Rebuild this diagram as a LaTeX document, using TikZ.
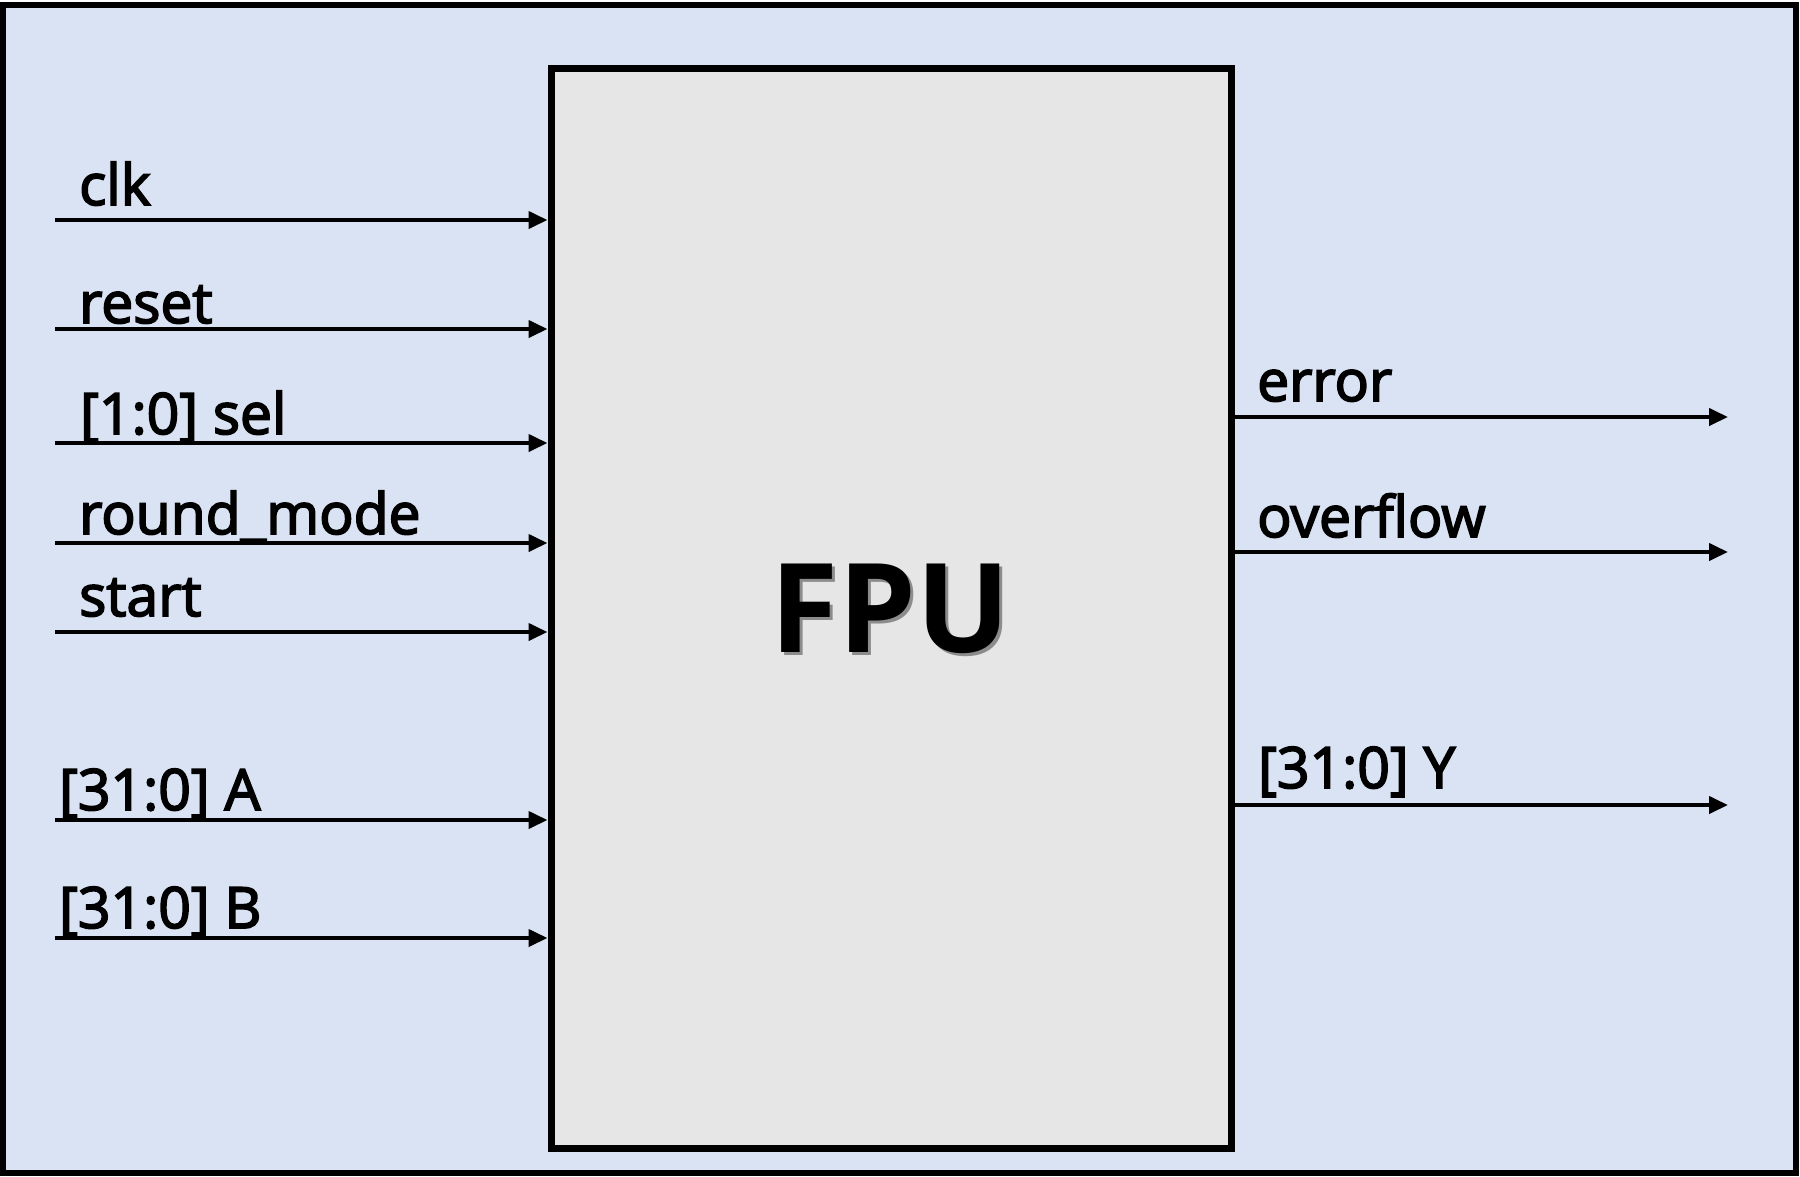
\documentclass[tikz,border=0pt]{standalone}
\usepackage{fontspec}
\setmainfont{Open Sans}
\newfontfamily\labfont{Open Sans}[FakeBold=3]
\usetikzlibrary{arrows.meta}
\definecolor{bgblue}{RGB}{218,227,243}
\definecolor{boxgray}{RGB}{230,230,230}
\definecolor{shadowgray}{RGB}{140,140,140}
\begin{document}
\begin{tikzpicture}[x=1pt,y=-1pt,
  sig/.style={line width=4pt, -{Triangle[length=19pt,width=17pt]}},
  lab/.style={anchor=base west, inner sep=0pt, font=\labfont\fontsize{57}{60}\selectfont},
  ttl/.style={inner sep=0pt, font=\bfseries\fontsize{124}{130}\selectfont}]
\useasboundingbox (0,0) rectangle (1800,1176);
\draw[line width=6pt, fill=bgblue] (3,4.5) rectangle (1796,1173);
\node[draw, line width=7pt, fill=boxgray, minimum width=680pt, minimum height=1079.5pt, inner sep=0pt] (fpu) at (891,608.25) {};
\node[ttl] (fputext) at (890,610.5) {\makebox[0pt][l]{\raisebox{-3.5pt}{\hspace{3.5pt}\textcolor{shadowgray}{FPU}}}FPU};
% inputs
\coordinate (iclk) at (55,220);
\coordinate (irst) at (55,329);
\coordinate (isel) at (55,443);
\coordinate (irnd) at (55,543);
\coordinate (istart) at (55,632);
\coordinate (ia) at (55,820);
\coordinate (ib) at (55,938);
\foreach \c in {iclk,irst,isel,irnd,istart,ia,ib}
  \draw[sig] (\c) -- (\c -| fpu.west);
\node[lab] (lclk) at (79,205) {clk};
\node[lab] (lrst) at (79,323) {reset};
\node[lab] (lsel) at (80,434) {[1:0] sel};
\node[lab] (lrnd) at (79,534) {round\_mode};
\node[lab] (lstart) at (79,616) {start};
\node[lab] (la) at (59,810) {[31:0] A};
\node[lab] (lb) at (59,928) {[31:0] B};
% outputs
\coordinate (oerr) at (1728,417);
\coordinate (oovf) at (1728,552);
\coordinate (oy) at (1728,805);
\foreach \c in {oerr,oovf,oy}
  \draw[sig] (\c -| fpu.east) -- (\c);
\node[lab] (lerr) at (1257,401) {error};
\node[lab] (lovf) at (1257,537) {overflow};
\node[lab] (ly) at (1258,788) {[31:0] Y};
\end{tikzpicture}
\end{document}
